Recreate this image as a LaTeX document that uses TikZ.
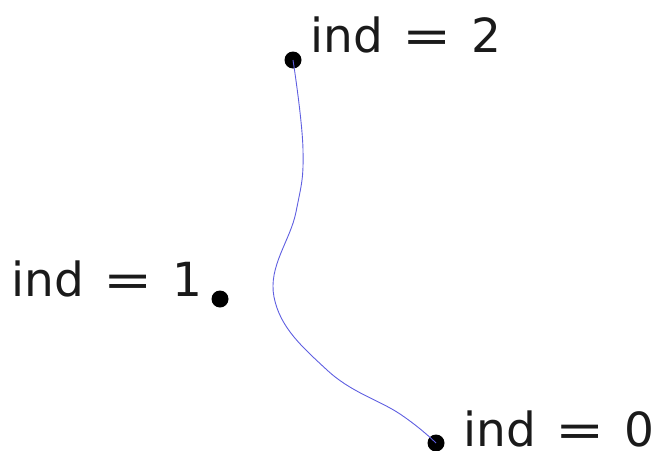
\documentclass[tikz,border=0pt]{standalone}
\usepackage{fontspec}
\setmainfont{DejaVu Sans}
\usepackage{graphicx}
\usetikzlibrary{positioning, calc}
\definecolor{curvec}{RGB}{95,95,225}
\definecolor{ink}{HTML}{1A1A1A}
\newcommand{\indlbl}[1]{ind\hspace{0.42em}\scalebox{1.25}[1]{=}\hspace{0.42em}#1}

\begin{document}
\begin{tikzpicture}[
  x=1pt, y=-1pt,
  dot/.style={circle, fill=black, inner sep=0pt, minimum size=17pt},
  lbl/.style={font=\fontsize{47}{56}\selectfont, text=ink, inner sep=0pt},
  path/.style={draw=curvec, line width=0.9pt},
]
\useasboundingbox (0,0) rectangle (656,450);

% ---------------- points ----------------
\node[dot] (p0) at (436,443) {};
\node[dot] (p1) at (220,299) {};
\node[dot] (p2) at (293,60) {};

% ---------------- labels ----------------
\node[lbl, anchor=base west] (l0) at (463,446) {\indlbl{0}};
\node[lbl, anchor=base east] (l1) at (203,296) {\indlbl{1}};
\node[lbl, anchor=base west] (l2) at (310,52) {\indlbl{2}};

% ---------------- curve ----------------
\draw[path] plot[smooth, tension=0.7] coordinates {
  (p0.center) (400,414) (327,370) (274,297)
  (296,212) (303,150) (p2.center)};

\end{tikzpicture}
\end{document}
